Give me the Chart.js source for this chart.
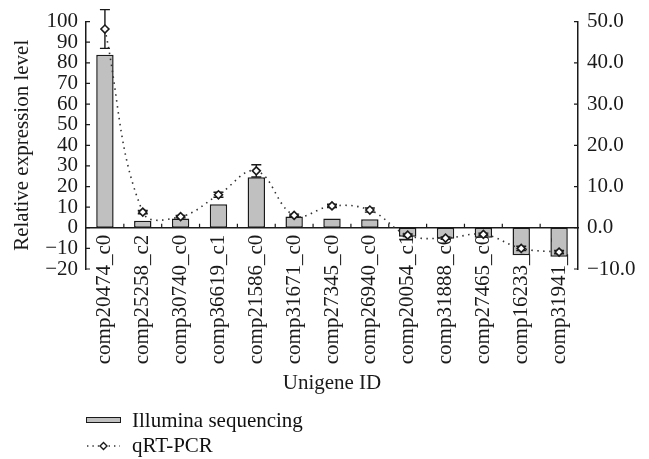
<!DOCTYPE html>
<html>
<head>
<meta charset="utf-8">
<script src="https://cdn.jsdelivr.net/npm/chart.js@4.4.0/dist/chart.umd.min.js"></script>
<style>
  html, body { margin: 0; padding: 0; background: #fff; }
  #wrap { position: relative; width: 649px; height: 459px; }
  #chart { position: absolute; left: 0; top: 0; }
  #legend { position: absolute; left: 86px; top: 408px; font: 21px "Liberation Serif", serif; color: #111; }
  #legend .row { height: 25px; line-height: 25px; white-space: nowrap; }
  #legend .sw { display: inline-block; width: 35px; height: 25px; vertical-align: top; margin-right: 11px; position: relative; }
</style>
</head>
<body>
<div id="wrap">
  <canvas id="chart" width="649" height="459"></canvas>
  <div id="legend"></div>
</div>
<script>
var chart

// datos
var genes = ['comp20474_c0', 'comp25258_c2', 'comp30740_c0', 'comp36619_c1', 'comp21586_c0', 'comp31671_c0',
  'comp27345_c0', 'comp26940_c0', 'comp20054_c1', 'comp31888_c0', 'comp27465_c0', 'comp16233_c0', 'comp31941_c0'];
var illumina = [83.9, 3.4, 4.5, 11.4, 24.5, 5.5, 4.5, 4.1, -4.3, -5.3, -4.8, -13.3, -14.0];
var qpcr = [48.2, 3.8, 2.7, 8.0, 13.8, 3.0, 5.3, 4.3, -1.8, -2.5, -1.6, -5.0, -5.9];
var qpcrErr = [4.7, 0.4, 0.3, 0.6, 1.5, 0.3, 0.4, 0.5, 0.3, 0.3, 0.3, 0.5, 0.4];
var leftTicks = [-20, -10, 0, 10, 20, 30, 40, 50, 60, 70, 80, 90, 100];
var rightTicks = [-10, 0, 10, 20, 30, 40, 50];

var ink = '#1a1a1a';

function graph(){
  Chart.defaults.font.family = '"Liberation Serif", serif';
  Chart.defaults.font.size = 21;
  Chart.defaults.color = ink;

  // marcas cortas hacia dentro de los ejes
  const innerTicks = {
    id: 'innerTicks',
    afterDraw(c) {
      const ctx = c.ctx, x = c.scales.x, y = c.scales.y, y1 = c.scales.y1;
      const area = c.chartArea;
      ctx.save();
      ctx.strokeStyle = ink;
      ctx.lineWidth = 1.2;
      ctx.beginPath();
      y.ticks.forEach(t => {
        const p = y.getPixelForValue(t.value);
        ctx.moveTo(area.left, p); ctx.lineTo(area.left + 4, p);
      });
      y1.ticks.forEach(t => {
        const p = y1.getPixelForValue(t.value);
        ctx.moveTo(area.right, p); ctx.lineTo(area.right - 4, p);
      });
      const zero = y.getPixelForValue(0);
      const half = (x.getPixelForTick(1) - x.getPixelForTick(0)) / 2;
      for (let i = 1; i < genes.length; i++) {
        const px = x.getPixelForTick(i) - half;
        ctx.moveTo(px, zero); ctx.lineTo(px, zero - 4);
      }
      ctx.stroke();
      ctx.restore();
    }
  };

  // barras de error del qRT-PCR
  const errorBars = {
    id: 'errorBars',
    beforeDatasetDraw(c, args) {
      if (args.index !== 1) return;
      const ctx = c.ctx, x = c.scales.x, y1 = c.scales.y1;
      ctx.save();
      ctx.strokeStyle = ink;
      ctx.lineWidth = 1.4;
      ctx.beginPath();
      qpcr.forEach((v, i) => {
        if (!qpcrErr[i]) return;
        const px = x.getPixelForValue(i);
        const hi = y1.getPixelForValue(v + qpcrErr[i]);
        const lo = y1.getPixelForValue(v - qpcrErr[i]);
        ctx.moveTo(px, hi); ctx.lineTo(px, lo);
        ctx.moveTo(px - 5, hi); ctx.lineTo(px + 5, hi);
        ctx.moveTo(px - 5, lo); ctx.lineTo(px + 5, lo);
      });
      ctx.stroke();
      ctx.restore();
    }
  };

  chart = new Chart(document.getElementById('chart'), {
    type: 'bar',
    data: {
      labels: genes,
      datasets: [{
        type: 'bar',
        label: 'Illumina sequencing',
        data: illumina,
        yAxisID: 'y',
        backgroundColor: '#c0c0c0',
        borderColor: ink,
        borderWidth: 1.5,
        borderSkipped: false,
        barPercentage: 0.46,
        categoryPercentage: 1,
        order: 1
      },
      {
        type: 'line',
        label: 'qRT-PCR',
        data: qpcr,
        yAxisID: 'y1',
        borderColor: '#333',
        borderWidth: 1.6,
        borderDash: [1.5, 4.5],
        tension: 0.4,
        fill: false,
        pointStyle: 'rectRot',
        pointRadius: 4,
        pointBackgroundColor: '#fff',
        pointBorderColor: ink,
        pointBorderWidth: 1.6,
        order: 0
      }]
    },
    options: {
      responsive: false,
      animation: false,
      layout: { padding: { top: 21, bottom: 62.8, left: 0, right: 0 } },
      plugins: {
        legend: { display: false },
        tooltip: { enabled: false },
        // titulo del eje x, debajo de las etiquetas giradas
        title: {
          display: true,
          text: 'Unigene ID',
          position: 'bottom',
          fullSize: false,
          color: ink,
          font: { size: 21, weight: 'normal' },
          padding: { top: 102, bottom: 0 }
        }
      },
      scales: {
        x: {
          position: { y: 0 },
          offset: true,
          grid: { display: false, drawTicks: false },
          border: { display: true, color: ink, width: 1.5 },
          ticks: { autoSkip: false, minRotation: 90, maxRotation: 90, padding: 7 }
        },
        y: {
          position: 'left',
          min: -20,
          max: 100,
          afterBuildTicks: s => { s.ticks = leftTicks.map(v => ({ value: v })); },
          afterFit: s => { s.width = 86; },
          grid: { display: false, drawTicks: false },
          border: { display: true, color: ink, width: 1.5 },
          ticks: { autoSkip: false, padding: 8, callback: v => String(v).replace('-', '\u2212') },
          title: { display: true, text: 'Relative expression level', padding: { top: 10, bottom: 0 } }
        },
        y1: {
          position: 'right',
          min: -10,
          max: 50,
          afterBuildTicks: s => { s.ticks = rightTicks.map(v => ({ value: v })); },
          afterFit: s => { s.width = 71; },
          grid: { display: false, drawTicks: false },
          border: { display: true, color: ink, width: 1.5 },
          ticks: { autoSkip: false, padding: 9, callback: v => v.toFixed(1).replace('-', '\u2212') }
        }
      }
    },
    plugins: [innerTicks, errorBars]
  });

  // leyenda en columna, hecha con los datasets
  const legend = document.getElementById('legend');
  chart.data.datasets.forEach(ds => {
    const row = document.createElement('div');
    row.className = 'row';
    let sw;
    if (ds.type === 'bar') {
      sw = '<span class="sw"><span style="position:absolute;left:0;top:9px;width:33px;height:4px;background:' +
        ds.backgroundColor + ';border:1.2px solid ' + ds.borderColor + '"></span></span>';
    } else {
      sw = '<span class="sw"><svg width="35" height="25" style="position:absolute;left:0;top:0">' +
        '<line x1="1" y1="13" x2="34" y2="13" stroke="' + ds.borderColor + '" stroke-width="1.4" stroke-dasharray="1.4 4"/>' +
        '<path d="M17.5 9.5 L21 13 L17.5 16.5 L14 13 Z" fill="#fff" stroke="' + ds.pointBorderColor + '" stroke-width="1.4"/></svg></span>';
    }
    row.innerHTML = sw + '<span>' + ds.label + '</span>';
    legend.appendChild(row);
  });
}
graph()
</script>
</body>
</html>
